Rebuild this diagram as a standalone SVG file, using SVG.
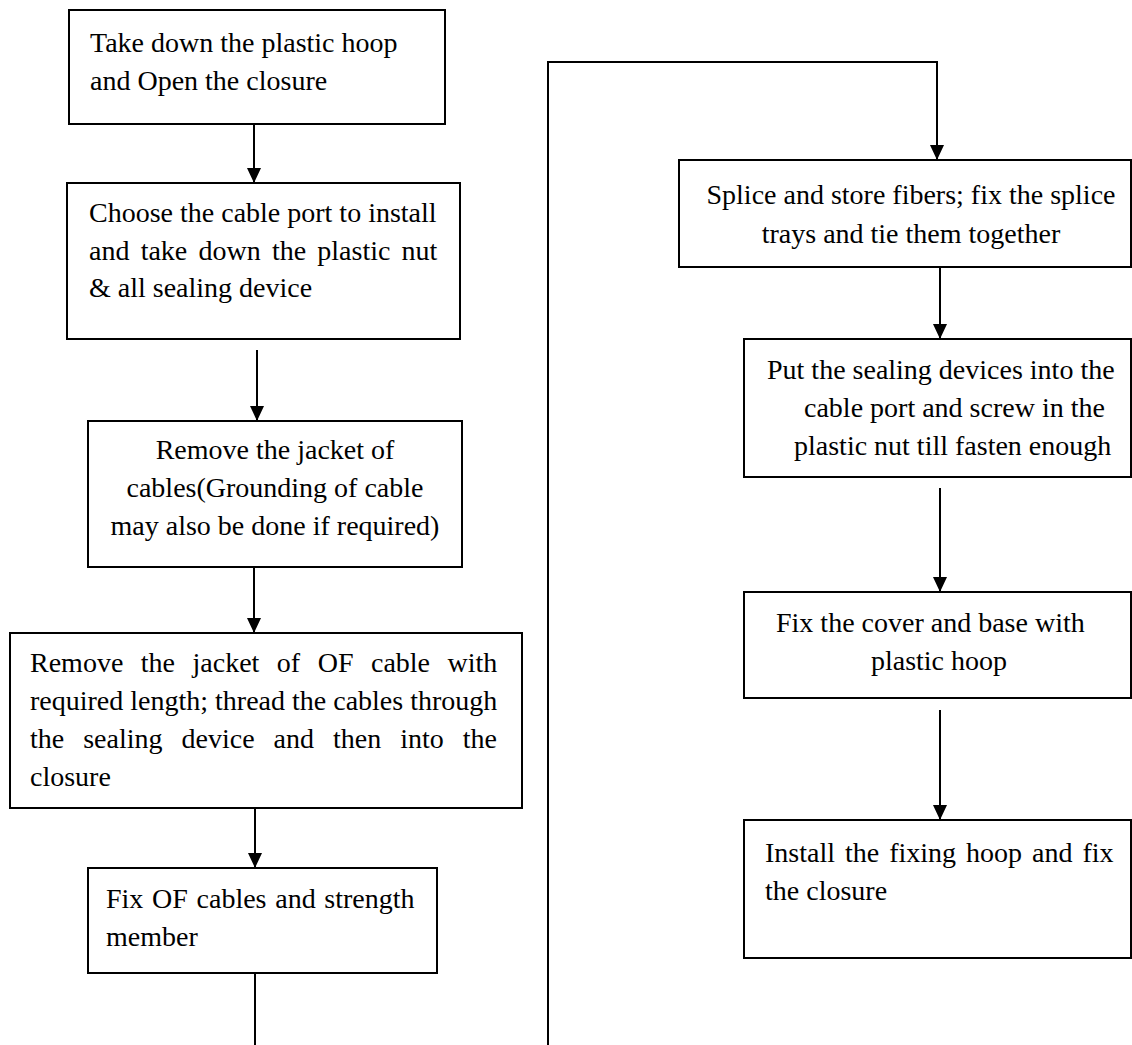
<svg xmlns="http://www.w3.org/2000/svg" width="1132" height="1045" viewBox="0 0 1132 1045">
<defs>
<marker id="ah" markerWidth="15" markerHeight="14" refX="15" refY="7" orient="auto" markerUnits="userSpaceOnUse" viewBox="0 0 15 14">
<path d="M0,0 L15,7 L0,14 z" fill="#000"/>
</marker>
<style>
.box{fill:#fff;stroke:#000;stroke-width:2}
.t{font-family:"Liberation Serif","Times New Roman",serif;font-size:28px;fill:#000}
.c{text-anchor:middle}
.ln{fill:none;stroke:#000;stroke-width:2}
</style>
</defs>
<g id="connectors">
<path class="ln" d="M254,124 V183" marker-end="url(#ah)"/>
<path class="ln" d="M257,350 V421" marker-end="url(#ah)"/>
<path class="ln" d="M254,567 V633" marker-end="url(#ah)"/>
<path class="ln" d="M255,808 V868" marker-end="url(#ah)"/>
<path class="ln" d="M255,973 V1045"/>
<path class="ln" d="M548,1045 V62 H937 V160" marker-end="url(#ah)"/>
<path class="ln" d="M940,267 V339" marker-end="url(#ah)"/>
<path class="ln" d="M940,488 V592" marker-end="url(#ah)"/>
<path class="ln" d="M940,710 V820" marker-end="url(#ah)"/>
</g>
<g id="n1"><rect class="box" x="69" y="10" width="376" height="114"/>
<text class="t" x="90" y="52">Take down the plastic hoop</text>
<text class="t" x="90" y="90">and Open the closure</text></g>
<g id="n2"><rect class="box" x="67" y="183" width="393" height="156"/>
<text class="t" x="89" y="222">Choose the cable port to install</text>
<text class="t" x="89" y="260" word-spacing="4.2">and take down the plastic nut</text>
<text class="t" x="89" y="297">&amp; all sealing device</text></g>
<g id="n3"><rect class="box" x="88" y="421" width="374" height="146"/>
<text class="t c" x="275" y="459">Remove the jacket of</text>
<text class="t c" x="275" y="497">cables(Grounding of cable</text>
<text class="t c" x="275" y="535">may also be done if required)</text></g>
<g id="n4"><rect class="box" x="10" y="633" width="512" height="175"/>
<text class="t" x="30" y="672" word-spacing="10.5">Remove the jacket of OF cable with</text>
<text class="t" x="30" y="710">required length; thread the cables through</text>
<text class="t" x="30" y="748" word-spacing="12">the sealing device and then into the</text>
<text class="t" x="30" y="786">closure</text></g>
<g id="n5"><rect class="box" x="88" y="868" width="349" height="105"/>
<text class="t" x="106" y="908" word-spacing="1.7">Fix OF cables and strength</text>
<text class="t" x="106" y="946">member</text></g>
<g id="n6"><rect class="box" x="679" y="160" width="452" height="107"/>
<text class="t c" x="911" y="204">Splice and store fibers; fix the splice</text>
<text class="t c" x="911" y="243">trays and tie them together</text></g>
<g id="n7"><rect class="box" x="744" y="339" width="387" height="138"/>
<text class="t" x="767" y="379">Put the sealing devices into the</text>
<text class="t" x="804" y="417">cable port and screw in the</text>
<text class="t" x="794" y="455">plastic nut till fasten enough</text></g>
<g id="n8"><rect class="box" x="744" y="592" width="387" height="106"/>
<text class="t" x="776" y="632">Fix the cover and base with</text>
<text class="t c" x="939" y="670">plastic hoop</text></g>
<g id="n9"><rect class="box" x="744" y="820" width="387" height="138"/>
<text class="t" x="765" y="862" word-spacing="3">Install the fixing hoop and fix</text>
<text class="t" x="765" y="900">the closure</text></g>
</svg>
